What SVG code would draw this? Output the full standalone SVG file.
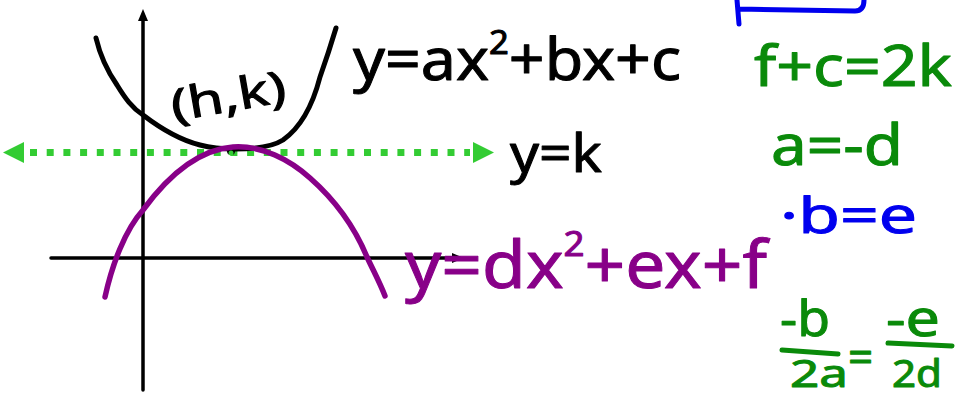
<svg xmlns="http://www.w3.org/2000/svg" width="956" height="399" viewBox="0 0 956 399">
<style>
.hw{font-family:"Noto Sans","DejaVu Sans",sans-serif;stroke-linejoin:round;}
.blk{fill:#000;stroke:#000;stroke-width:1}
.pur{fill:#880088;stroke:#880088;stroke-width:1}
.grn{fill:#0a8a0a;stroke:#0a8a0a;stroke-width:1}
.blu{fill:#0000ee;stroke:#0000ee;stroke-width:1}
.curve{fill:none;stroke-linecap:round;stroke-linejoin:round}
</style>
<rect width="956" height="399" fill="#fff"/>
<g id="connectors">
  <g id="y-axis">
    <line x1="143" y1="18" x2="143" y2="390" stroke="#000" stroke-width="3.5" stroke-linecap="round"/>
    <polygon points="143,9 138,21 148,21" fill="#000"/>
  </g>
  <g id="x-axis">
    <line x1="51" y1="258" x2="456" y2="258" stroke="#000" stroke-width="3.5" stroke-linecap="round"/>
    <polygon points="464,258 452,253 452,263" fill="#000"/>
  </g>
  <g id="line-y-k">
    <line x1="30" y1="152.5" x2="470" y2="152.5" stroke="#33cc33" stroke-width="7" stroke-dasharray="7 9.7"/>
    <polygon points="3,152.5 24,142 24,163" fill="#33cc33"/>
    <polygon points="494,152.5 473,142 473,163" fill="#33cc33"/>
  </g>
</g>
<g id="parabola-up">
  <path class="curve" stroke="#000" stroke-width="5" d="M96,38 C100,55 108,72 117,85 C125,98 132,108 143,115 C160,128 180,140 200,145 C215,149 225,149 235,149 C255,149 272,147 283,140 C300,128 312,108 320,77 C326,60 330,48 336,28"/>
</g>
<g id="vertex">
  <circle cx="231" cy="151" r="4" fill="#000"/>
  <circle cx="231" cy="153" r="2.5" fill="#33cc33"/>
</g>
<g id="parabola-down">
  <path class="curve" stroke="#880088" stroke-width="5.5" d="M105,297 C112,265 125,230 143,210 C165,180 195,150 233,147 C262,145 290,160 310,178 C335,200 355,228 367,257 C374,272 380,283 385,296"/>
</g>
<g id="label-hk">
  <text class="hw blk" x="170" y="112" font-size="44" transform="rotate(-10 225 95)" textLength="116" lengthAdjust="spacingAndGlyphs">(h,k)</text>
</g>
<g id="label-eq1">
  <text class="hw blk" x="353" y="80" font-size="58" textLength="328" lengthAdjust="spacingAndGlyphs">y=ax<tspan font-size="32" dy="-26">2</tspan><tspan dy="26">+bx+c</tspan></text>
</g>
<g id="label-yk">
  <text class="hw blk" x="510" y="172" font-size="52" textLength="92" lengthAdjust="spacingAndGlyphs">y=k</text>
</g>
<g id="label-eq2">
  <text class="hw pur" x="405" y="288" font-size="66" textLength="362" lengthAdjust="spacingAndGlyphs">y=dx<tspan font-size="34" dy="-32">2</tspan><tspan dy="32">+ex+f</tspan></text>
</g>
<g id="box">
  <path class="curve" stroke="#0000ee" stroke-width="5" d="M737,0 L739,24 M739,9 L855,11 C862,11 864,6 864,0"/>
</g>
<g id="eq-fc">
  <text class="hw grn" x="754" y="86" font-size="56" textLength="198" lengthAdjust="spacingAndGlyphs">f+c=2k</text>
</g>
<g id="eq-ad">
  <text class="hw grn" x="771" y="165" font-size="56" textLength="132" lengthAdjust="spacingAndGlyphs">a=-d</text>
</g>
<g id="eq-be">
  <text class="hw blu" x="780" y="233" font-size="50" textLength="137" lengthAdjust="spacingAndGlyphs">·b=e</text>
</g>
<g id="eq-frac">
  <text class="hw grn" x="780" y="336" font-size="50" textLength="50" lengthAdjust="spacingAndGlyphs">-b</text>
  <line x1="782" y1="350" x2="838" y2="354" stroke="#0a8a0a" stroke-width="5" stroke-linecap="round"/>
  <text class="hw grn" x="790" y="387" font-size="38" textLength="58" lengthAdjust="spacingAndGlyphs">2a</text>
  <text class="hw grn" x="848" y="373" font-size="44">=</text>
  <text class="hw grn" x="886" y="336" font-size="50" textLength="54" lengthAdjust="spacingAndGlyphs">-e</text>
  <line x1="888" y1="343" x2="952" y2="346" stroke="#0a8a0a" stroke-width="5" stroke-linecap="round"/>
  <text class="hw grn" x="892" y="387" font-size="38" textLength="50" lengthAdjust="spacingAndGlyphs">2d</text>
</g>
</svg>
